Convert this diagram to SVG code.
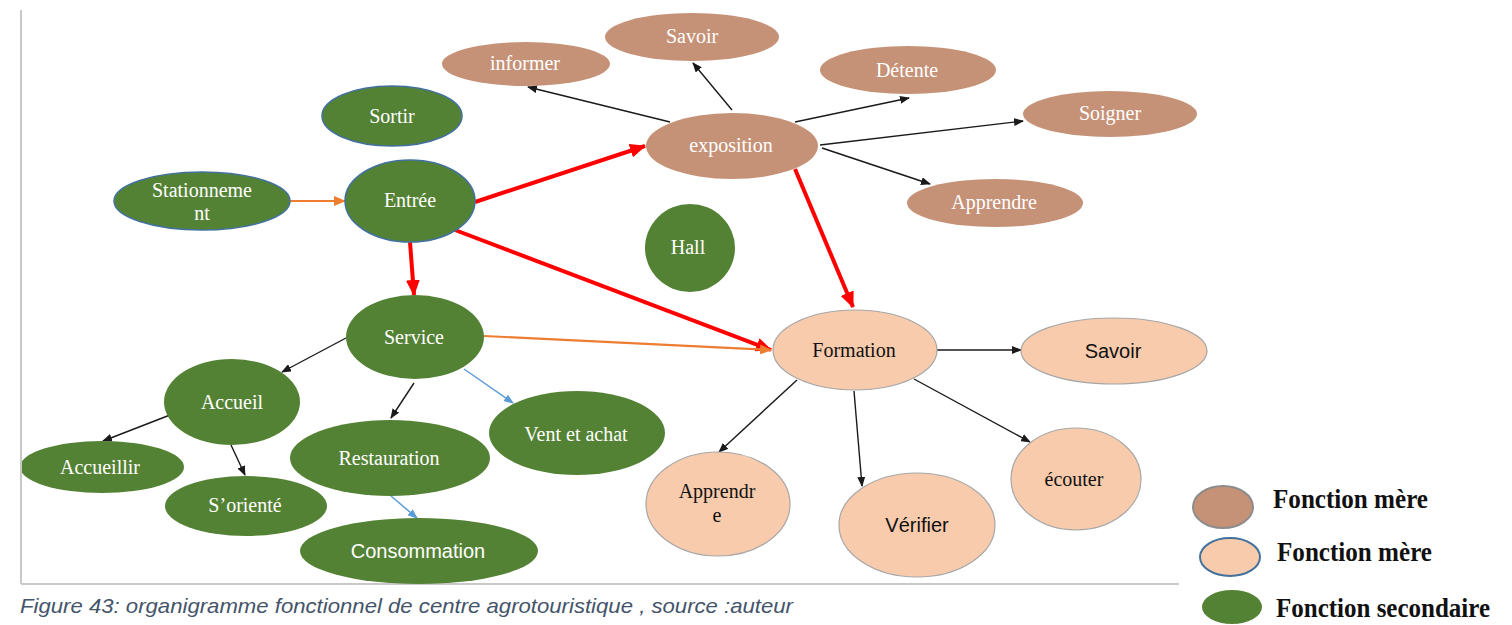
<svg xmlns="http://www.w3.org/2000/svg" width="1512" height="625" viewBox="0 0 1512 625">
<style>
.g{fill:#548235}
.gs{fill:#548235;stroke:#41719C;stroke-width:1.5}
.b{fill:#C69277}
.p{fill:#F8CBAD;stroke:#A6A6A6;stroke-width:1.2}
.tw{font-family:"Liberation Serif",serif;font-size:20px;fill:#fff;text-anchor:middle}
.tb{font-family:"Liberation Serif",serif;font-size:20px;fill:#111;text-anchor:middle}
.sw{font-family:"Liberation Sans",sans-serif;font-size:20px;fill:#fff;text-anchor:middle}
.sb{font-family:"Liberation Sans",sans-serif;font-size:20px;fill:#111;text-anchor:middle}
.lk{stroke:#1a1a1a;stroke-width:1.4;fill:none;marker-end:url(#ak)}
.lr{stroke:#FF0000;stroke-width:4;fill:none;marker-end:url(#ar)}
.lo{stroke:#ED7D31;stroke-width:2.2;fill:none;marker-end:url(#ao)}
.lb{stroke:#5B9BD5;stroke-width:1.5;fill:none;marker-end:url(#ab)}
.leg{font-family:"Liberation Serif",serif;font-size:27px;font-weight:bold;fill:#111}
</style>
<defs>
<marker id="ak" markerUnits="userSpaceOnUse" markerWidth="10" markerHeight="8" refX="9" refY="4" orient="auto"><path d="M0,0 L10,4 L0,8 Z" fill="#1a1a1a"/></marker>
<marker id="ar" markerUnits="userSpaceOnUse" markerWidth="16" markerHeight="14" refX="15" refY="7" orient="auto"><path d="M0,0 L16,7 L0,14 Z" fill="#FF0000"/></marker>
<marker id="ao" markerUnits="userSpaceOnUse" markerWidth="12" markerHeight="10" refX="11" refY="5" orient="auto"><path d="M0,0 L12,5 L0,10 Z" fill="#ED7D31"/></marker>
<marker id="ab" markerUnits="userSpaceOnUse" markerWidth="10" markerHeight="8" refX="9" refY="4" orient="auto"><path d="M0,0 L10,4 L0,8 Z" fill="#5B9BD5"/></marker>
<clipPath id="frame"><rect x="22" y="0" width="1490" height="625"/></clipPath>
</defs>
<rect x="0" y="0" width="1512" height="625" fill="#fff"/>
<g id="frame-lines" stroke="#C8C8C8" stroke-width="2" fill="none">
<line x1="21" y1="10" x2="21" y2="584"/>
<line x1="21" y1="584" x2="1179" y2="584"/>
</g>
<g id="connectors">
<line class="lo" x1="290" y1="201" x2="345" y2="201"/>
<line class="lr" x1="410" y1="242" x2="414" y2="295"/>
<line class="lr" x1="475" y1="202" x2="645" y2="146"/>
<line class="lr" x1="455" y1="230" x2="771" y2="350"/>
<line class="lr" x1="795" y1="169" x2="853" y2="307"/>
<line class="lo" x1="484" y1="336" x2="771" y2="350"/>
<line class="lk" x1="670" y1="122" x2="528" y2="87"/>
<line class="lk" x1="732" y1="110" x2="693" y2="63"/>
<line class="lk" x1="795" y1="122" x2="909" y2="98"/>
<line class="lk" x1="820" y1="145" x2="1023" y2="121"/>
<line class="lk" x1="822" y1="148" x2="930" y2="184"/>
<line class="lk" x1="346" y1="338" x2="282" y2="372"/>
<line class="lk" x1="414" y1="383" x2="391" y2="418"/>
<line class="lb" x1="464" y1="369" x2="513" y2="403"/>
<line class="lk" x1="170" y1="415" x2="103" y2="441"/>
<line class="lk" x1="231" y1="445" x2="245" y2="475"/>
<line class="lb" x1="391" y1="496" x2="417" y2="518"/>
<line class="lk" x1="936" y1="350" x2="1021" y2="350"/>
<line class="lk" x1="797" y1="380" x2="719" y2="452"/>
<line class="lk" x1="854" y1="391" x2="862" y2="486"/>
<line class="lk" x1="914" y1="379" x2="1030" y2="442"/>
</g>
<g id="sortir"><ellipse class="gs" cx="392" cy="116" rx="70" ry="30"/><text class="tw" x="392" y="123">Sortir</text></g>
<g id="stationnement"><ellipse class="gs" cx="202" cy="201" rx="88" ry="29"/><text class="tw" x="202" y="197">Stationneme</text><text class="tw" x="202" y="220">nt</text></g>
<g id="entree"><ellipse class="gs" cx="410" cy="201" rx="65" ry="41"/><text class="tw" x="410" y="207">Entrée</text></g>
<g id="hall"><ellipse class="g" cx="690" cy="248" rx="45" ry="44"/><text class="tw" x="688" y="254">Hall</text></g>
<g id="exposition"><ellipse class="b" cx="732" cy="146" rx="86" ry="33"/><text class="tw" x="731" y="152">exposition</text></g>
<g id="savoir-top"><ellipse class="b" cx="692" cy="37" rx="87" ry="24"/><text class="tw" x="692" y="43">Savoir</text></g>
<g id="informer"><ellipse class="b" cx="526" cy="64" rx="84" ry="22"/><text class="tw" x="525" y="70">informer</text></g>
<g id="detente"><ellipse class="b" cx="908" cy="70" rx="88" ry="24"/><text class="tw" x="907" y="77">Détente</text></g>
<g id="soigner"><ellipse class="b" cx="1110" cy="114" rx="87" ry="23"/><text class="tw" x="1110" y="120">Soigner</text></g>
<g id="apprendre-b"><ellipse class="b" cx="995" cy="203" rx="88" ry="24"/><text class="tw" x="994" y="209">Apprendre</text></g>
<g id="service"><ellipse class="g" cx="415" cy="337" rx="69" ry="42"/><text class="tw" x="414" y="344">Service</text></g>
<g id="accueil"><ellipse class="g" cx="232" cy="402" rx="68" ry="43"/><text class="tw" x="232" y="409">Accueil</text></g>
<g id="accueillir" clip-path="url(#frame)"><ellipse class="g" cx="102" cy="467" rx="82" ry="26"/><text class="tw" x="100" y="474">Accueillir</text></g>
<g id="soriente"><ellipse class="g" cx="246" cy="506" rx="81" ry="30"/><text class="tw" x="245" y="512">S’orienté</text></g>
<g id="restauration"><ellipse class="g" cx="390" cy="458" rx="100" ry="38"/><text class="tw" x="389" y="465">Restauration</text></g>
<g id="vent"><ellipse class="g" cx="577" cy="433" rx="88" ry="42"/><text class="tw" x="576" y="441">Vent et achat</text></g>
<g id="consommation"><ellipse class="g" cx="419" cy="551" rx="119" ry="33"/><text class="sw" x="418" y="558">Consommation</text></g>
<g id="formation"><ellipse class="p" cx="855" cy="350" rx="82" ry="40"/><text class="tb" x="854" y="357">Formation</text></g>
<g id="savoir-right"><ellipse class="p" cx="1114" cy="351" rx="93" ry="33"/><text class="sb" x="1113" y="358">Savoir</text></g>
<g id="apprendre-p"><ellipse class="p" cx="718" cy="504" rx="72" ry="52"/><text class="tb" x="717" y="498">Apprendr</text><text class="tb" x="717" y="522">e</text></g>
<g id="verifier"><ellipse class="p" cx="917" cy="525" rx="78" ry="52"/><text class="sb" x="917" y="532">Vérifier</text></g>
<g id="ecouter"><ellipse class="p" cx="1076" cy="479" rx="65" ry="51"/><text class="tb" x="1074" y="486">écouter</text></g>
<g id="legend">
<ellipse cx="1223" cy="507" rx="30" ry="21" fill="#C69277" stroke="#8C8C8C" stroke-width="2"/>
<text class="leg" x="1273" y="508" textLength="155" lengthAdjust="spacingAndGlyphs">Fonction mère</text>
<ellipse cx="1230" cy="557" rx="30" ry="19" fill="#F8CBAD" stroke="#41719C" stroke-width="2"/>
<text class="leg" x="1277" y="561" textLength="155" lengthAdjust="spacingAndGlyphs">Fonction mère</text>
<ellipse cx="1232" cy="607" rx="30" ry="17" fill="#548235"/>
<text class="leg" x="1276" y="617" textLength="214" lengthAdjust="spacingAndGlyphs">Fonction secondaire</text>
</g>
<text id="caption" x="20" y="613" font-family="Liberation Sans, sans-serif" font-size="21" font-style="italic" fill="#44546A" textLength="773" lengthAdjust="spacingAndGlyphs">Figure 43: organigramme fonctionnel de centre agrotouristique , source :auteur</text>
</svg>
